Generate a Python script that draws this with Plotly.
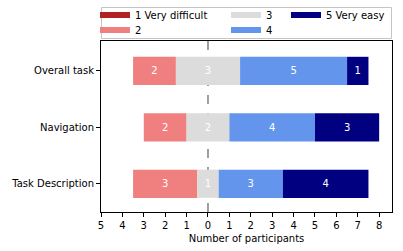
import plotly.graph_objects as go

categories = ["Overall task", "Navigation", "Task Description"]
levels = ["1 Very difficult", "2", "3", "4", "5 Very easy"]
counts_1 = [0, 0, 0]
counts_2 = [2, 2, 3]
counts_3 = [3, 2, 1]
counts_4 = [5, 4, 3]
counts_5 = [1, 3, 4]
colors = ["#B22222", "#F08080", "#DCDCDC", "#6495ED", "#000080"]
x_ticks = list(range(-5, 9))
x_tick_labels = [str(abs(v)) for v in x_ticks]

series = [counts_1, counts_2, counts_3, counts_4, counts_5]

# plot region: 291 x 212 px (top margin 0); axes occupy lower 171 px
H = 212.0
W = 291.0

# legend layout: matplotlib-like 3-column legend (column-major)
legend_ids = ["legend", "legend2", "legend3", "legend4", "legend5"]
legend_x = [-0.0206, -0.0206, 0.4296, 0.4296, 0.6357]
legend_y = [(H - 15) / H, (H - 30) / H, (H - 15) / H, (H - 30) / H, (H - 15) / H]

# left starting point for each category (neutral centred on 0)
starts = [-(c1 + c2 + c3 / 2) for c1, c2, c3 in zip(counts_1, counts_2, counts_3)]

fig = go.Figure()
cum = list(starts)
for name, vals, col in zip(levels, series, colors):
    fig.add_trace(go.Bar(
        y=categories, x=vals, base=cum, orientation="h",
        name=name, marker=dict(color=col, line=dict(width=0)),
        text=[str(v) if v > 0 else "" for v in vals],
        textposition="inside", insidetextanchor="middle",
        textfont=dict(color="white", size=10, family="DejaVu Sans"),
        width=0.5, showlegend=False,
    ))
    cum = [c + v for c, v in zip(cum, vals)]

# legend entries (legend-only, wide rectangular swatches)
for name, col, lid in zip(levels, colors, legend_ids):
    fig.add_trace(go.Scatter(
        x=[None], y=[None], mode="lines", name=name,
        line=dict(color=col, width=6), legend=lid, showlegend=True,
        hoverinfo="skip",
    ))

fig.add_shape(type="line", xref="x", yref="y domain", x0=0, x1=0, y0=0, y1=1,
              layer="below",
              line=dict(color="gray", width=1.5, dash="dash"))

# legend frame (half-pixel aligned for a crisp 1px line)
fig.add_shape(type="rect", xref="paper", yref="paper", layer="above",
              x0=0.5 / W, x1=290.5 / W,
              y0=(H - 38.5) / H, y1=(H - 7.5) / H,
              line=dict(color="#c4c4c4", width=1),
              fillcolor="rgba(0,0,0,0)")

leg_common = dict(orientation="v", xanchor="left", yanchor="middle",
                  bgcolor="rgba(0,0,0,0)", borderwidth=0,
                  font=dict(size=10, family="DejaVu Sans", color="black"),
                  itemwidth=30)
legends = {}
for lid, lx, ly in zip(legend_ids, legend_x, legend_y):
    legends[lid] = dict(leg_common, x=lx, y=ly)

fig.update_layout(
    width=403, height=251,
    margin=dict(l=101, r=11, t=0, b=39, autoexpand=False),
    plot_bgcolor="white", paper_bgcolor="white",
    barmode="overlay",
    font=dict(family="DejaVu Sans", size=10, color="black"),
    showlegend=True,
    xaxis=dict(range=[-5, 8.6], tickvals=x_ticks, ticktext=x_tick_labels,
               showgrid=False, zeroline=False, showline=True, linecolor="black",
               linewidth=1, mirror=True, ticks="outside", ticklen=4,
               tickcolor="black",
               title=dict(text="Number of participants", standoff=4,
                          font=dict(size=10))),
    yaxis=dict(range=[2.5, -0.53], domain=[0, 171 / H], showgrid=False,
               zeroline=False, showline=True, linecolor="black", linewidth=1,
               mirror=True, ticks="outside", ticklen=4, tickcolor="black"),
    **legends,
)

fig.write_html("out.html", config={"displayModeBar": False},
               post_script="document.body.style.margin='0';")
